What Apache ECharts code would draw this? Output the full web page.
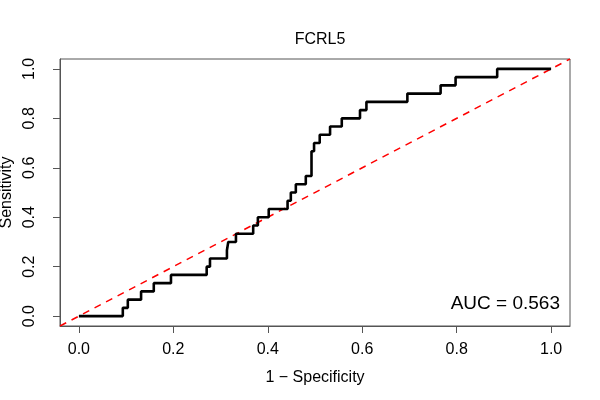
<!DOCTYPE html>
<html>
<head>
<meta charset="utf-8">
<script src="https://cdn.jsdelivr.net/npm/echarts@6/dist/echarts.min.js"></script>
<style>
  html, body { margin: 0; padding: 0; background: #fff; }
  #chart { width: 600px; height: 400px; }
</style>
</head>
<body>
<div id="chart"></div>
<script>
    // ROC curve for FCRL5 (vertices where the step jumps up)
    var fpr = [0, 0.093, 0.1036, 0.1317, 0.1586, 0.195, 0.2706, 0.2776, 0.3135, 0.3163,
               0.3326, 0.3691, 0.379, 0.402, 0.4419, 0.4488, 0.4594, 0.4805, 0.4926, 0.498,
               0.51, 0.5319, 0.5567, 0.5953, 0.6089, 0.6956, 0.766, 0.7977, 0.8858, 1.0];
    var tpr = [0, 1/30, 2/30, 3/30, 4/30, 5/30, 6/30, 7/30, 8/30, 9/30,
               10/30, 11/30, 12/30, 13/30, 14/30, 15/30, 16/30, 17/30, 20/30, 21/30,
               22/30, 23/30, 24/30, 25/30, 26/30, 27/30, 28/30, 29/30, 1, 1];
    var tickValues = [0, 0.2, 0.4, 0.6, 0.8, 1.0];
    var diagonal = [-0.04, 1.04];
    var aucValue = 0.563;
    var titleText = 'FCRL5';

    var curve = fpr.map(function (x, i) { return [x, tpr[i]]; });
    var refLine = diagonal.map(function (v) { return [v, v]; });

    var font = 'Liberation Sans, Arial, Helvetica, sans-serif';
    var myChart = echarts.init(document.getElementById('chart'));

    var axisCommon = {
        type: 'value',
        min: -0.04,
        max: 1.04,
        axisLine: { show: true, onZero: false, lineStyle: { color: '#555', width: 1 } },
        splitLine: { show: false },
        axisTick: {
            show: true,
            length: 7,
            customValues: tickValues,
            lineStyle: { color: '#555', width: 1 }
        },
        axisLabel: {
            customValues: tickValues,
            color: '#000',
            fontSize: 16,
            fontFamily: font,
            formatter: function (v) { return v.toFixed(1); }
        },
        nameLocation: 'middle',
        nameTextStyle: { color: '#000', fontSize: 16, fontFamily: font }
    };

    var option = {
        animation: false,
        backgroundColor: '#fff',
        title: {
            text: titleText,
            left: 315,
            top: 27,
            textAlign: 'center',
            textStyle: { fontSize: 16, fontWeight: 'normal', color: '#000', fontFamily: font }
        },
        grid: {
            left: 60, right: 30, top: 59, bottom: 74,
            containLabel: false,
            outerBoundsMode: 'none',
            show: true,
            borderColor: '#555',
            borderWidth: 1
        },
        xAxis: echarts.util.merge({
            name: '1 \u2212 Specificity',
            nameGap: 44,
            axisLabel: { margin: 16 }
        }, axisCommon),
        yAxis: echarts.util.merge({
            name: 'Sensitivity',
            nameGap: 42,
            axisLabel: { margin: 22, rotate: 90 }
        }, axisCommon),
        graphic: [{
            type: 'text',
            right: 40,
            top: 294,
            style: {
                text: 'AUC = ' + aucValue.toFixed(3),
                fontSize: 19,
                fontFamily: font,
                fill: '#000'
            }
        }],
        series: [
            {
                type: 'line',
                data: refLine,
                symbol: 'none',
                clip: true,
                lineStyle: { color: '#ff0000', width: 1.5, type: [7, 6] },
                z: 1
            },
            {
                type: 'line',
                data: curve,
                step: 'end',
                symbol: 'none',
                clip: true,
                lineStyle: { color: '#000', width: 2.6 },
                z: 2
            }
        ]
    };
    myChart.setOption(option);
</script>
</body>
</html>
